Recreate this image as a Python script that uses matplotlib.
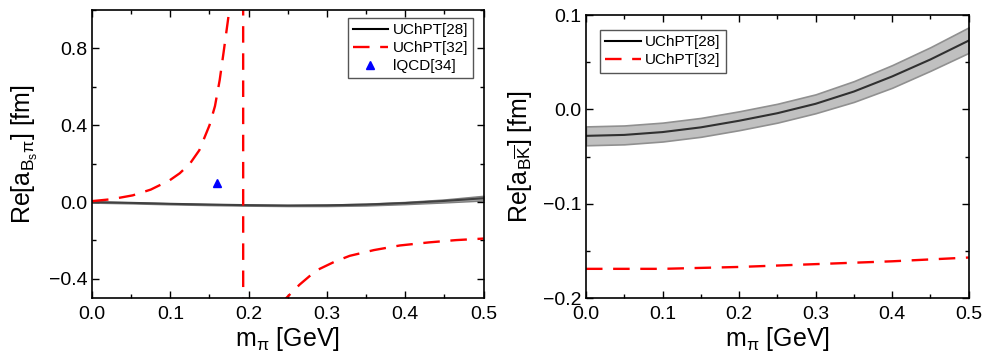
import numpy as np
import matplotlib
matplotlib.use('Agg')
import matplotlib.pyplot as plt
from matplotlib.ticker import MultipleLocator

plt.rcParams['font.family'] = ['Liberation Sans', 'DejaVu Sans']
plt.rcParams['mathtext.fontset'] = 'custom'
plt.rcParams['mathtext.rm'] = 'Liberation Sans'
plt.rcParams['mathtext.it'] = 'Liberation Sans'
plt.rcParams['mathtext.bf'] = 'Liberation Sans:bold'

# ---- left panel: B_s pi ----
# UChPT[28] central line and band
x28_l = [0.0, 0.05, 0.1, 0.15, 0.2, 0.25, 0.3, 0.35, 0.4, 0.45, 0.5]
y28_l = [0.0, -0.004, -0.009, -0.013, -0.016, -0.018, -0.017, -0.013, -0.005, 0.006, 0.02]
lo28_l = [-0.003, -0.007, -0.012, -0.016, -0.019, -0.021, -0.021, -0.018, -0.011, -0.002, 0.008]
hi28_l = [0.003, -0.001, -0.006, -0.010, -0.013, -0.015, -0.013, -0.008, 0.001, 0.014, 0.033]

# UChPT[32] (pole near 0.193 GeV)
x32_l = [0.0, 0.025, 0.052, 0.075, 0.099, 0.112, 0.125, 0.137, 0.15, 0.157, 0.163, 0.168, 0.174,
         0.18, 0.186, 0.1925, 0.1935, 0.21, 0.23, 0.248, 0.265, 0.286, 0.31, 0.329, 0.36, 0.393,
         0.43, 0.465, 0.5]
y32_l = [0.005, 0.015, 0.035, 0.065, 0.113, 0.15, 0.2, 0.27, 0.4, 0.5, 0.635, 0.78, 0.96,
         1.3, 2.0, 30.0, -30.0, -1.5, -0.75, -0.5, -0.43, -0.357, -0.31, -0.28, -0.25, -0.226,
         -0.21, -0.198, -0.19]

# lQCD[34]
x_lqcd = [0.159]
y_lqcd = [0.099]

# ---- right panel: B Kbar ----
x28_r = [0.0, 0.05, 0.1, 0.15, 0.2, 0.25, 0.3, 0.35, 0.4, 0.45, 0.5]
y28_r = [-0.028, -0.027, -0.024, -0.019, -0.012, -0.004, 0.006, 0.019, 0.035, 0.053, 0.073]
lo28_r = [-0.038, -0.037, -0.034, -0.029, -0.022, -0.014, -0.004, 0.008, 0.023, 0.041, 0.060]
hi28_r = [-0.018, -0.017, -0.014, -0.009, -0.002, 0.006, 0.016, 0.030, 0.047, 0.066, 0.087]

x32_r = [0.0, 0.1, 0.2, 0.3, 0.4, 0.5]
y32_r = [-0.169, -0.169, -0.167, -0.164, -0.161, -0.157]

fig = plt.figure(figsize=(9.84, 3.6), dpi=100)
ax1 = fig.add_axes([0.0935, 0.172, 0.398, 0.8])
ax2 = fig.add_axes([0.5955, 0.172, 0.389, 0.786])

dash = (0, (7, 4.5))

def style(ax):
    ax.tick_params(which='both', direction='in', top=True, right=True, labelsize=14)
    ax.tick_params(axis='x', pad=6)
    ax.tick_params(which='major', length=5, width=1)
    ax.tick_params(which='minor', length=3, width=1)
    for s in ax.spines.values():
        s.set_linewidth(1.2)
    ax.xaxis.set_major_locator(MultipleLocator(0.1))
    ax.xaxis.set_minor_locator(MultipleLocator(0.05))
    ax.set_xlim(0, 0.5)
    ax.set_xlabel(r'm$_\pi$ [GeV]', fontsize=18, labelpad=1)

leg_kw = dict(fontsize=11, fancybox=False, edgecolor='#555555', handlelength=2.3,
              handletextpad=0.3, borderpad=0.35, borderaxespad=0, labelspacing=0.25,
              framealpha=1)

# left
ax1.fill_between(x28_l, lo28_l, hi28_l, color='#a8a8a8', edgecolor='#808080', lw=1)
ax1.plot(x28_l, y28_l, color='#404040', lw=1.5, label='UChPT[28]')
ax1.plot(x32_l, y32_l, color='red', lw=1.7, ls=dash, label='UChPT[32]')
ax1.plot(x_lqcd, y_lqcd, ls='none', marker='^', color='blue', ms=6, label='lQCD[34]')
ax1.set_ylim(-0.5, 1.0)
ax1.yaxis.set_minor_locator(MultipleLocator(0.2))
ax1.set_yticks([-0.4, 0.0, 0.4, 0.8])
style(ax1)
ax1.set_ylabel(r'Re[a$_{B_s\pi}$] [fm]', fontsize=18, labelpad=6)
h, l = ax1.get_legend_handles_labels()
h[0] = plt.Line2D([], [], color='black', lw=1.5)
ax1.legend(h, l, loc='upper right', bbox_to_anchor=(0.974, 0.972), **leg_kw)

# right
ax2.fill_between(x28_r, lo28_r, hi28_r, color='#c0c0c0', edgecolor='#909090', lw=1.2)
ax2.plot(x28_r, y28_r, color='#303030', lw=1.5, label='UChPT[28]')
ax2.plot(x32_r, y32_r, color='red', lw=1.7, ls=dash, label='UChPT[32]')
ax2.set_ylim(-0.2, 0.1)
ax2.yaxis.set_major_locator(MultipleLocator(0.1))
ax2.yaxis.set_minor_locator(MultipleLocator(0.05))
style(ax2)
ax2.set_ylabel(r'Re[a$_{B\overline{K}}$] [fm]', fontsize=18, labelpad=6)
h, l = ax2.get_legend_handles_labels()
h[0] = plt.Line2D([], [], color='black', lw=1.5)
ax2.legend(h, l, loc='upper left', bbox_to_anchor=(0.037, 0.947), **leg_kw)

fig.savefig('out.png', dpi=100)
